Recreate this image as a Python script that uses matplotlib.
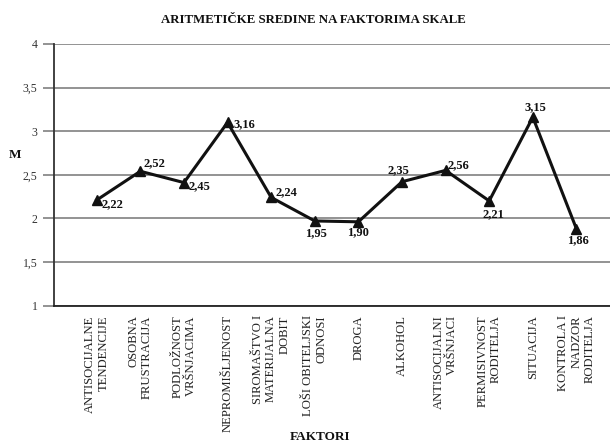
import matplotlib
matplotlib.use("Agg")
import matplotlib.pyplot as plt

categories = [
    "ANTISOCIJALNE\nTENDENCIJE",
    "OSOBNA\nFRUSTRACIJA",
    "PODLOŽNOST\nVRŠNJACIMA",
    "NEPROMIŠLJENOST",
    "SIROMAŠTVO I\nMATERIJALNA\nDOBIT",
    "LOŠI OBITELJSKI\nODNOSI",
    "DROGA",
    "ALKOHOL",
    "ANTISOCIJALNI\nVRŠNJACI",
    "PERMISIVNOST\nRODITELJA",
    "SITUACIJA",
    "KONTROLA I\nNADZOR\nRODITELJA",
]
# plotted positions
values = [2.21, 2.54, 2.41, 3.10, 2.24, 1.97, 1.96, 2.42, 2.55, 2.20, 3.16, 1.88]
# printed value labels
value_labels = ["2,22", "2,52", "2,45", "3,16", "2,24", "1,95",
                "1,90", "2,35", "2,56", "2,21", "3,15", "1,86"]
y_ticks = [1, 1.5, 2, 2.5, 3, 3.5, 4]
y_tick_labels = ["1", "1,5", "2", "2,5", "3", "3,5", "4"]

# label placement (offset in pixels, horizontal alignment)
label_offsets = [(5, -4, "left"), (3, 8, "left"), (5, -4, "left"), (6, -2, "left"),
                 (4, 5, "left"), (1.5, -12, "center"), (0, -10.5, "center"),
                 (-4, 11.5, "center"), (2, 5.5, "left"), (4, -13, "center"),
                 (3, 9.6, "center"), (1.5, -11, "center")]

plt.rcParams['font.family'] = ['Liberation Serif', 'DejaVu Serif']

fig = plt.figure(figsize=(6.1, 4.47), dpi=100)
ax = fig.add_axes([54 / 610, 1 - 305.5 / 447, 1 - 54 / 610, (305.5 - 44) / 447])

x = list(range(len(categories)))
ax.plot(x, values, color="#111111", lw=2.2, marker="^", markersize=6.5,
        markerfacecolor="#111111", markeredgecolor="#111111", zorder=3)

px2pt = 72 / 100
for xi, v, lab, (dx, dy, ha) in zip(x, values, value_labels, label_offsets):
    ax.annotate(lab, (xi, v), xytext=(dx * px2pt, dy * px2pt),
                textcoords="offset points", ha=ha, va="center",
                fontsize=9, fontweight="bold", color="#111111", zorder=4)

ax.set_xlim(-0.98, 11.77)
ax.set_ylim(1, 4)
ax.set_yticks(y_ticks)
ax.set_yticklabels(y_tick_labels, fontsize=8.5, color="#333333")
ax.set_xticks(x)
ax.set_xticklabels(categories, rotation=90, fontsize=9.1, ha="center", va="top",
                   multialignment="right", color="#222222", linespacing=1.15)
ax.tick_params(axis="x", length=0, pad=7)
ax.tick_params(axis="y", length=8, width=1.2, color="#808080", pad=4)

ax.grid(axis="y", color="#808080", lw=1.2)
ax.set_axisbelow(True)
for s in ["top", "right"]:
    ax.spines[s].set_visible(False)
ax.spines["left"].set_color("#333333")
ax.spines["left"].set_linewidth(1.3)
ax.spines["bottom"].set_color("#222222")
ax.spines["bottom"].set_linewidth(1.3)

fig.text(313.5 / 610, 1 - 20 / 447, "ARITMETIČKE SREDINE NA FAKTORIMA SKALE",
         ha="center", va="center", fontsize=9.3, fontweight="bold", color="#111111")
fig.text(15 / 610, 1 - 155 / 447, "M", ha="center", va="center",
         fontsize=9.5, fontweight="bold", color="#111111")
fig.text(320 / 610, 1 - 437 / 447, "FAKTORI", ha="center", va="center",
         fontsize=9.5, fontweight="bold", color="#111111")

fig.savefig("out.png", dpi=100)
